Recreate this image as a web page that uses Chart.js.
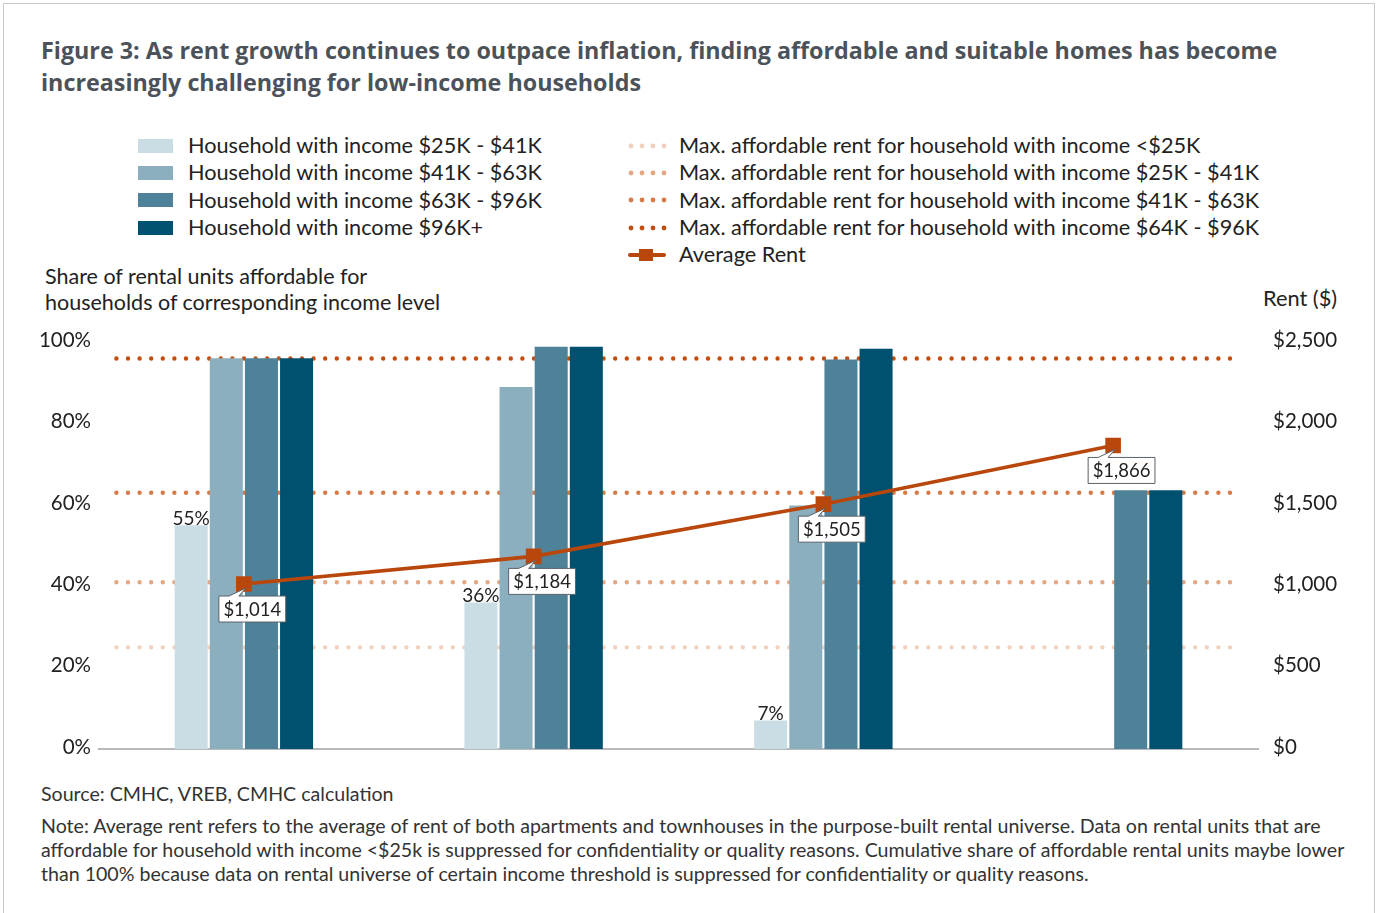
<!DOCTYPE html>
<html>
<head>
<meta charset="utf-8">
<script src="https://cdn.jsdelivr.net/npm/chart.js@4/dist/chart.umd.min.js"></script>
<style>
 body{margin:0;background:#fff;font-family:Lato,"Open Sans",sans-serif;color:#222;}
 #frame{position:absolute;left:3px;top:3px;width:1370px;height:930px;border:1px solid #c9c9c9;border-bottom:none;}
 .abs{position:absolute;white-space:nowrap;}
 #title{left:41px;top:34px;font-family:"Open Sans";font-size:23.3px;font-weight:bold;color:#4c5259;line-height:32px;}
 .leg{font-size:21.7px;line-height:27.3px;}
 .leg div{height:27.3px;display:flex;align-items:center;}
 .sw{display:inline-block;width:35px;height:14px;margin-right:15px;}
 .dots{display:inline-block;width:40px;height:8px;margin-right:12px;}
 #ytl{left:45px;top:263px;font-size:21.5px;line-height:26px;}
 #ytr{left:1263px;top:284px;font-size:21.8px;}
 #src{left:41px;top:782px;font-size:19.6px;color:#333;}
 #note{left:41px;top:814px;font-size:19.6px;color:#333;line-height:24px;}
 #wrap{position:absolute;left:0;top:323px;width:1377px;height:447px;}
</style>
</head>
<body>
<div id="frame"></div>
<div id="title" class="abs">Figure 3: As rent growth continues to outpace inflation, finding affordable and suitable homes has become<br>increasingly challenging for low-income households</div>
<div id="legL" class="abs leg" style="left:138px;top:132px"></div>
<div id="legR" class="abs leg" style="left:627px;top:132px"></div>
<div id="ytl" class="abs">Share of rental units affordable for<br>households of corresponding income level</div>
<div id="ytr" class="abs">Rent ($)</div>
<div id="wrap"><canvas id="chart"></canvas></div>
<div id="src" class="abs">Source: CMHC, VREB, CMHC calculation</div>
<div id="note" class="abs">Note: Average rent refers to the average of rent of both apartments and townhouses in the purpose-built rental universe. Data on rental units that are<br>affordable for household with income &lt;$25k is suppressed for confidentiality or quality reasons. Cumulative share of affordable rental units maybe lower<br>than 100% because data on rental universe of certain income threshold is suppressed for confidentiality or quality reasons.</div>
<script>
// categories (no labels shown on the axis in the original)
const categories = ['2005','2010','2015','2020'];
// share of rental units affordable (%), by income group
const barNames = ['Household with income $25K - $41K','Household with income $41K - $63K','Household with income $63K - $96K','Household with income $96K+'];
const share25to41 = [55, 36, 7, null];
const share41to63 = [96.1, 89.0, 59.9, null];
const share63to96 = [96.1, 98.9, 95.8, 63.6];
const share96plus = [96.1, 98.9, 98.4, 63.6];
const barColors = ['#cbdde4','#8cafbf','#4e8299','#00506f'];
// max affordable rent thresholds ($)
const maxNames = ['Max. affordable rent for household with income <$25K','Max. affordable rent for household with income $25K - $41K','Max. affordable rent for household with income $41K - $63K','Max. affordable rent for household with income $64K - $96K'];
const maxRent = [625, 1025, 1575, 2400];
const maxColors = ['#f1d0bd','#e3a784','#d67b48','#c14e10'];
const lineSpan = [-0.44, 3.43];   // threshold lines run from before the first to past the last category
// average rent ($)
const avgRent = [1014, 1184, 1505, 1866];
const rentColor = '#b9470c';
const pctTicks = [0,20,40,60,80,100];
const rentTicks = [0,500,1000,1500,2000,2500];

// html legend
const legL=document.getElementById('legL'), legR=document.getElementById('legR');
barNames.forEach((n,i)=>{ legL.innerHTML += `<div><span class="sw" style="background:${barColors[i]}"></span>${n}</div>`; });
maxNames.forEach((n,i)=>{ legR.innerHTML += `<div><svg class="dots" viewBox="0 0 40 8">${[4,15,26,37].map(x=>`<circle cx="${x}" cy="4" r="2.4" fill="${maxColors[i]}"/>`).join('')}</svg>${n}</div>`; });
legR.innerHTML += `<div><svg class="dots" viewBox="0 0 40 12" style="height:12px"><line x1="3" y1="6" x2="37" y2="6" stroke="${rentColor}" stroke-width="4" stroke-linecap="round"/><rect x="12" y="0" width="14" height="12" fill="${rentColor}"/></svg>Average Rent</div>`;

const barSets = [share25to41, share41to63, share63to96, share96plus].map((d,i)=>({
  type:'bar', label:barNames[i], data:d, backgroundColor:barColors[i], yAxisID:'y', order:5
}));
const avgSet = {type:'line', label:'Average Rent', data:avgRent, yAxisID:'y2', borderColor:rentColor, backgroundColor:rentColor,
  borderWidth:3.6, pointStyle:'rect', pointRadius:8.5, pointHoverRadius:8.5, order:0};

// dotted max-rent lines, drawn under the bars
const thresholdPlugin = {
  id:'thresholds',
  beforeDatasetsDraw(chart){
    const {ctx, scales:{x, y2}} = chart;
    ctx.save();
    ctx.lineWidth=4.4; ctx.lineCap='round'; ctx.setLineDash([0,11.6]);
    maxRent.forEach((v,i)=>{
      const py=y2.getPixelForValue(v);
      ctx.strokeStyle=maxColors[i];
      ctx.beginPath(); ctx.moveTo(x.getPixelForValue(lineSpan[0]),py); ctx.lineTo(x.getPixelForValue(lineSpan[1]),py); ctx.stroke();
    });
    ctx.restore();
  }
};

const labelPlugin = {
  id:'labels',
  afterDatasetsDraw(chart){
    const ctx=chart.ctx;
    ctx.save();
    ctx.font='19px Lato'; ctx.fillStyle='#222'; ctx.textAlign='center'; ctx.textBaseline='bottom';
    chart.getDatasetMeta(0).data.forEach((b,i)=>{ if(share25to41[i]!=null) ctx.fillText(share25to41[i]+'%', b.x, b.y+3); });
    const meta = chart.getDatasetMeta(chart.data.datasets.indexOf(avgSet));
    ctx.font='18.5px Lato';
    meta.data.forEach((p,i)=>{
      const t='$'+avgRent[i].toLocaleString('en-US');
      const w=ctx.measureText(t).width+9, h=26, bx=p.x-25, by=p.y+12;
      ctx.beginPath();
      ctx.moveTo(bx,by); ctx.lineTo(bx+10,by); ctx.lineTo(p.x+2,p.y+4); ctx.lineTo(bx+20,by);
      ctx.lineTo(bx+w,by); ctx.lineTo(bx+w,by+h); ctx.lineTo(bx,by+h); ctx.closePath();
      ctx.fillStyle='#fff'; ctx.fill(); ctx.strokeStyle='#5a6068'; ctx.lineWidth=1; ctx.stroke();
      ctx.fillStyle='#222'; ctx.textAlign='left'; ctx.textBaseline='middle';
      ctx.fillText(t, bx+4.5, by+h/2+1);
    });
    ctx.restore();
  }
};

new Chart(document.getElementById('chart'),{
  type:'bar',
  data:{labels:categories, datasets:[...barSets, avgSet]},
  options:{
    responsive:true, maintainAspectRatio:false, animation:false,
    categoryPercentage:0.485, barPercentage:0.94,
    layout:{padding:{top:18,bottom:13,left:0,right:0}},
    plugins:{legend:{display:false}, tooltip:{enabled:false}},
    scales:{
      x:{grid:{display:false}, ticks:{display:false}, border:{color:'#b9b9b9', width:2}},
      y:{position:'left', min:0, max:100, grid:{display:false}, border:{display:false},
        afterBuildTicks(a){ a.ticks=pctTicks.map(v=>({value:v})); },
        afterFit(a){ a.width=99; },
        ticks:{padding:0, labelOffset:-2, color:'#222', font:{family:'Lato', size:20.5}, callback:v=>v+'%'}},
      y2:{position:'right', min:0, max:2500, grid:{display:false}, border:{display:false},
        afterBuildTicks(a){ a.ticks=rentTicks.map(v=>({value:v})); },
        afterFit(a){ a.width=1377-1258; },
        ticks:{padding:7, labelOffset:-2, color:'#222', font:{family:'Lato', size:20.5}, callback:v=>'$'+v.toLocaleString('en-US')}}
    }
  },
  plugins:[thresholdPlugin, labelPlugin]
});
</script>
</body>
</html>
